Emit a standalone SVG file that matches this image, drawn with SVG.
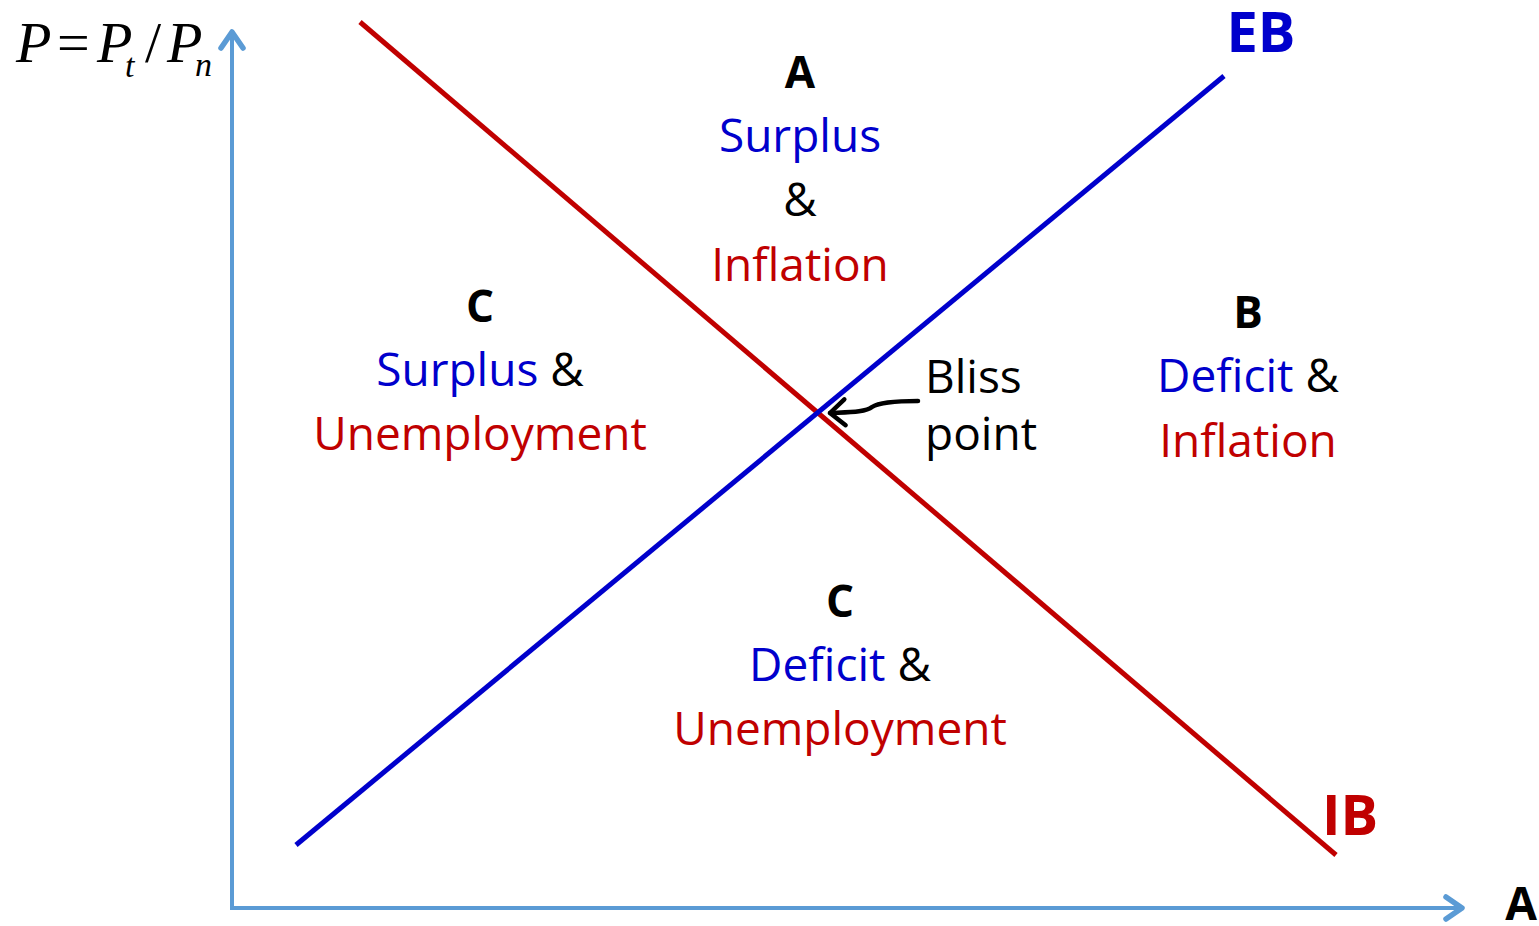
<svg xmlns="http://www.w3.org/2000/svg" width="1539" height="926" viewBox="0 0 1539 926">
<style>
.t{font-family:"Open Sans","Noto Sans",sans-serif;font-size:46px;text-anchor:middle}
.s{text-anchor:start}
.b{font-weight:bold;fill:#000;font-size:44px}
.blue{fill:#0000CC}
.red{fill:#C00000}
.k{fill:#000}
.m{font-family:"Liberation Serif",serif;font-style:italic;fill:#000;font-size:58px}
.sub{font-size:34px}
.up{font-style:normal}
</style>
<defs>
<marker id="ax" markerWidth="26" markerHeight="30" refX="20" refY="15" orient="auto" markerUnits="userSpaceOnUse">
<path d="M4,4 L20,15 L4,26" fill="none" stroke="#5B9BD5" stroke-width="5.5" stroke-linecap="round" stroke-linejoin="round"/>
</marker>
<marker id="bk" markerWidth="24" markerHeight="32" refX="19" refY="16" orient="auto" markerUnits="userSpaceOnUse">
<path d="M4,3 L19,16 L4,29" fill="none" stroke="#000" stroke-width="4.5" stroke-linecap="round" stroke-linejoin="round"/>
</marker>
</defs>
<g id="axes">
<line x1="232" y1="910" x2="232" y2="32" stroke="#5B9BD5" stroke-width="4" marker-end="url(#ax)"/>
<line x1="230" y1="908" x2="1462" y2="908" stroke="#5B9BD5" stroke-width="4" marker-end="url(#ax)"/>
</g>
<g id="connectors">
<line id="IB-line" x1="360" y1="22" x2="1336" y2="855" stroke="#C00000" stroke-width="5"/>
<line id="EB-line" x1="296" y1="845" x2="1224" y2="76" stroke="#0000CC" stroke-width="5"/>
<path id="bliss-arrow" d="M918,401 C890,401 878,403 872,407 C866,412 850,412 830,413" fill="none" stroke="#000" stroke-width="4.5" stroke-linecap="round" marker-end="url(#bk)"/>
</g>
<g id="y-label">
<text class="m" x="16" y="62">P</text>
<text class="m up" x="57" y="62">=</text>
<text class="m" x="97" y="62">P</text>
<text class="m sub" x="125" y="77">t</text>
<text class="m up" x="145" y="62">/</text>
<text class="m" x="167" y="62">P</text>
<text class="m sub" x="195" y="76">n</text>
</g>
<g id="x-label"><text class="t b" x="1537" y="920" style="text-anchor:end;font-size:46px">A</text></g>
<g id="EB"><text class="t b blue" x="1261" y="52" style="font-size:56px;fill:#0000CC">EB</text></g>
<g id="IB"><text class="t b red" x="1350" y="835" style="font-size:56px;fill:#C00000">IB</text></g>
<g id="region-A">
<text class="t b" x="800" y="88">A</text>
<text class="t blue" x="800" y="152">Surplus</text>
<text class="t k" x="800" y="216">&amp;</text>
<text class="t red" x="800" y="281">Inflation</text>
</g>
<g id="region-C-left">
<text class="t b" x="480" y="322">C</text>
<text class="t" x="480" y="386"><tspan class="blue">Surplus</tspan><tspan class="k"> &amp;</tspan></text>
<text class="t red" x="480" y="450">Unemployment</text>
</g>
<g id="region-B">
<text class="t b" x="1248" y="328">B</text>
<text class="t" x="1248" y="392"><tspan class="blue">Deficit</tspan><tspan class="k"> &amp;</tspan></text>
<text class="t red" x="1248" y="457">Inflation</text>
</g>
<g id="region-C-bottom">
<text class="t b" x="840" y="617">C</text>
<text class="t" x="840" y="681"><tspan class="blue">Deficit</tspan><tspan class="k"> &amp;</tspan></text>
<text class="t red" x="840" y="745">Unemployment</text>
</g>
<g id="bliss-point">
<text class="t s k" x="925" y="393">Bliss</text>
<text class="t s k" x="925" y="450">point</text>
</g>
</svg>
